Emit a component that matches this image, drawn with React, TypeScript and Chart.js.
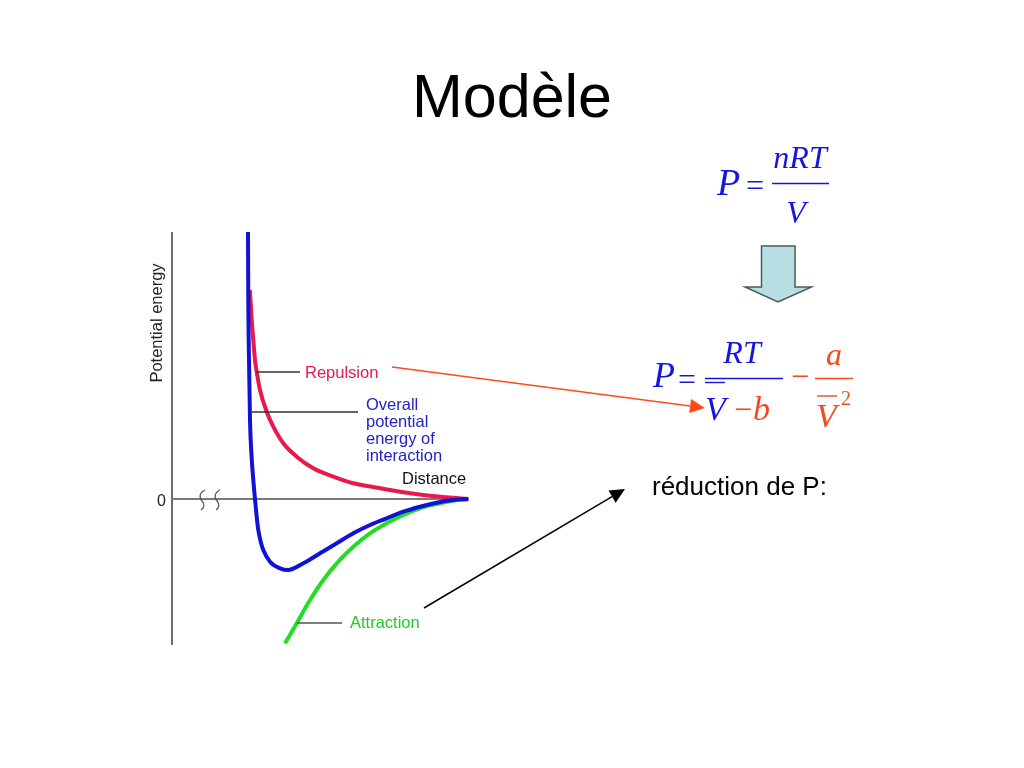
import { useEffect, useRef } from "react";
import { Chart, registerables } from "chart.js";

Chart.register(...registerables);

// ---- Data (distance in arbitrary units, potential energy in arbitrary units) ----
const overallDistance = [7.6, 7.63, 7.7, 7.8, 7.95, 8.13, 8.3, 8.47, 8.63, 8.87, 9.13, 9.8, 10.8, 11.63, 13.13, 14.8, 16.47, 18.13, 19.8, 21.47, 23.13, 24.8, 26.47, 28.13, 29.63];
const overallEnergy = [26.7, 19.9, 13.9, 7.9, 4.4, 1.9, 0, -1.77, -3.1, -4.27, -5.1, -6.27, -6.93, -7.1, -6.43, -5.43, -4.43, -3.43, -2.6, -1.93, -1.27, -0.77, -0.37, -0.1, 0];

const repulsionDistance = [7.78, 7.88, 7.97, 8.13, 8.3, 8.47, 8.8, 9.47, 10.13, 11.13, 12.47, 14.13, 16.13, 18.13, 20.13, 22.8, 25.13, 27.47, 29.63];
const repulsionEnergy = [20.9, 19.4, 17.9, 15.9, 13.9, 12.73, 10.9, 8.73, 7.23, 5.57, 4.23, 3.07, 2.23, 1.57, 1.2, 0.73, 0.4, 0.17, 0];

const attractionDistance = [11.3, 12.47, 13.8, 15.13, 16.47, 18.13, 19.8, 21.47, 23.13, 24.8, 26.47, 28.13, 29.63];
const attractionEnergy = [-14.43, -12.43, -10.1, -8.1, -6.43, -4.77, -3.43, -2.43, -1.6, -0.93, -0.5, -0.17, 0];

const xRange = [0, 29.8];
const yRange = [-14.6, 26.7];
const xAxisEnd = 29.63;

const titleText = "Modèle";
const yAxisLabel = "Potential energy";
const xAxisLabel = "Distance";
const zeroLabel = "0";
const repulsionLabel = "Repulsion";
const overallLabel = ["Overall", "potential", "energy of", "interaction"];
const attractionLabel = "Attraction";
const noteText = "réduction de P:";

const RED = "#e8194b";
const BLUE = "#1212d6";
const GREEN = "#22dd22";
const EQ_BLUE = "#1515e0";
const EQ_ORANGE = "#f24a1c";

const zip = (xs: number[], ys: number[]) => xs.map((x, i) => ({ x, y: ys[i] }));

function text(ctx: CanvasRenderingContext2D, s: string, x: number, y: number, font: string, color: string, align: CanvasTextAlign = "left") {
  ctx.save();
  ctx.font = font;
  ctx.fillStyle = color;
  ctx.textAlign = align;
  ctx.textBaseline = "alphabetic";
  ctx.fillText(s, x, y);
  ctx.restore();
}

function line(ctx: CanvasRenderingContext2D, x1: number, y1: number, x2: number, y2: number, color: string, w: number) {
  ctx.save();
  ctx.strokeStyle = color;
  ctx.lineWidth = w;
  ctx.beginPath();
  ctx.moveTo(x1, y1);
  ctx.lineTo(x2, y2);
  ctx.stroke();
  ctx.restore();
}

function arrow(ctx: CanvasRenderingContext2D, x1: number, y1: number, x2: number, y2: number, color: string) {
  const ang = Math.atan2(y2 - y1, x2 - x1);
  const L = 15, W = 7;
  const bx = x2 - L * Math.cos(ang), by = y2 - L * Math.sin(ang);
  line(ctx, x1, y1, bx, by, color, 1.5);
  ctx.save();
  ctx.fillStyle = color;
  ctx.beginPath();
  ctx.moveTo(x2, y2);
  ctx.lineTo(bx + W * Math.sin(ang), by - W * Math.cos(ang));
  ctx.lineTo(bx - W * Math.sin(ang), by + W * Math.cos(ang));
  ctx.closePath();
  ctx.fill();
  ctx.restore();
}

const slidePlugin = {
  id: "slide",
  beforeDatasetsDraw(chart: any) {
    const ctx: CanvasRenderingContext2D = chart.ctx;
    const { top, bottom } = chart.chartArea;
    const x0 = chart.scales.x.getPixelForValue(0);
    const y0 = chart.scales.y.getPixelForValue(0);
    const xEnd = chart.scales.x.getPixelForValue(xAxisEnd);
    // axes
    line(ctx, x0, top, x0, bottom, "#6a6a6a", 2);
    line(ctx, x0, y0, xEnd, y0, "#7a7a7a", 2);
    // break marks
    ctx.save();
    ctx.strokeStyle = "#555";
    ctx.lineWidth = 1.3;
    for (const bx of [202, 217]) {
      ctx.beginPath();
      ctx.moveTo(bx + 3, y0 - 9);
      ctx.bezierCurveTo(bx - 3, y0 - 6, bx - 3, y0 - 1, bx, y0 + 2);
      ctx.bezierCurveTo(bx + 3, y0 + 5, bx + 2, y0 + 9, bx - 1, y0 + 11);
      ctx.stroke();
    }
    ctx.restore();
    text(ctx, zeroLabel, 166, y0 + 7, '16px "Liberation Sans"', "#222", "right");
  },
  afterDatasetsDraw(chart: any) {
    const ctx: CanvasRenderingContext2D = chart.ctx;
    const sans = '"Liberation Sans", Arial, sans-serif';
    const serif = '"Liberation Serif", "Times New Roman", serif';

    // y-axis label
    ctx.save();
    ctx.translate(161.5, 323);
    ctx.rotate(-Math.PI / 2);
    text(ctx, yAxisLabel, 0, 0, `16.5px ${sans}`, "#222", "center");
    ctx.restore();

    // leaders
    line(ctx, 256, 372, 300, 372, "#333", 1.5);
    line(ctx, 251.5, 412, 358, 412, "#333", 1.5);
    line(ctx, 297, 623, 342, 623, "#555", 1.5);

    text(ctx, repulsionLabel, 305, 378, `16.5px ${sans}`, RED);
    overallLabel.forEach((s, i) => text(ctx, s, 366, 410 + i * 17, `16.5px ${sans}`, "#2222cc"));
    text(ctx, xAxisLabel, 402, 484, `16.5px ${sans}`, "#111");
    text(ctx, attractionLabel, 350, 628, `16.5px ${sans}`, "#22cc22");

    // title
    text(ctx, titleText, 512, 117, `61px ${sans}`, "#000", "center");

    // formula 1
    text(ctx, "P", 717, 195, `italic 38px ${serif}`, EQ_BLUE);
    text(ctx, "=", 746, 196, `32px ${serif}`, EQ_BLUE);
    line(ctx, 772, 183.5, 829, 183.5, EQ_BLUE, 1.6);
    text(ctx, "nRT", 800, 168, `italic 32px ${serif}`, EQ_BLUE, "center");
    text(ctx, "V", 796, 223, `italic 32px ${serif}`, EQ_BLUE, "center");

    // big down arrow
    ctx.save();
    ctx.fillStyle = "#b8dde2";
    ctx.strokeStyle = "#4a5b5c";
    ctx.lineWidth = 1.5;
    ctx.beginPath();
    ctx.moveTo(761.5, 246);
    ctx.lineTo(795, 246);
    ctx.lineTo(795, 287);
    ctx.lineTo(811.5, 287);
    ctx.lineTo(778, 302);
    ctx.lineTo(745, 287);
    ctx.lineTo(761.5, 287);
    ctx.closePath();
    ctx.fill();
    ctx.stroke();
    ctx.restore();

    // formula 2
    text(ctx, "P", 653, 387, `italic 36px ${serif}`, EQ_BLUE);
    text(ctx, "=", 678, 390, `32px ${serif}`, EQ_BLUE);
    line(ctx, 705, 378.5, 783, 378.5, EQ_BLUE, 1.6);
    text(ctx, "RT", 742, 363, `italic 32px ${serif}`, EQ_BLUE, "center");
    line(ctx, 705, 382.5, 725, 382.5, EQ_BLUE, 1.4);
    text(ctx, "V", 705, 420, `italic 34px ${serif}`, EQ_BLUE);
    text(ctx, "\u2212", 734, 420, `32px ${serif}`, EQ_ORANGE);
    text(ctx, "b", 753, 420, `italic 34px ${serif}`, EQ_ORANGE);
    text(ctx, "\u2212", 791, 387, `32px ${serif}`, EQ_ORANGE);
    line(ctx, 815, 378.5, 853, 378.5, EQ_ORANGE, 1.6);
    text(ctx, "a", 834, 365, `italic 32px ${serif}`, EQ_ORANGE, "center");
    line(ctx, 817, 396, 837, 396, EQ_ORANGE, 1.4);
    text(ctx, "V", 816, 427, `italic 34px ${serif}`, EQ_ORANGE);
    text(ctx, "2", 841, 405, `20px ${serif}`, EQ_ORANGE);

    // note
    text(ctx, noteText, 652, 495, `26px ${sans}`, "#000");

    // arrows
    arrow(ctx, 392, 367, 705, 408, "#ff4a1a");
    arrow(ctx, 424, 608, 625, 489, "#000");
  },
};

export default function App() {
  const ref = useRef<HTMLCanvasElement>(null);
  useEffect(() => {
    const common = { borderWidth: 4, showLine: true, pointRadius: 0, cubicInterpolationMode: "monotone", clip: false };
    const chart = new Chart(ref.current as HTMLCanvasElement, {
      type: "scatter",
      data: {
        datasets: [
          { label: "Overall", data: zip(overallDistance, overallEnergy), borderColor: BLUE, ...common } as any,
          { label: "Repulsion", data: zip(repulsionDistance, repulsionEnergy), borderColor: RED, ...common } as any,
          { label: "Attraction", data: zip(attractionDistance, attractionEnergy), borderColor: GREEN, ...common } as any,
        ],
      },
      options: {
        responsive: false,
        devicePixelRatio: 1,
        animation: false,
        layout: { padding: { left: 172, right: 554, top: 232, bottom: 123 } },
        plugins: { legend: { display: false }, tooltip: { enabled: false }, title: { display: false } },
        scales: {
          x: { type: "linear", min: xRange[0], max: xRange[1], display: false },
          y: { type: "linear", min: yRange[0], max: yRange[1], display: false },
        },
      },
      plugins: [slidePlugin],
    });
    return () => chart.destroy();
  }, []);
  return (
    <div style={{ position: "fixed", left: 0, top: 0, width: 1024, height: 768, background: "#fff" }}>
      <canvas ref={ref} width={1024} height={768} style={{ display: "block", width: 1024, height: 768 }} />
    </div>
  );
}
